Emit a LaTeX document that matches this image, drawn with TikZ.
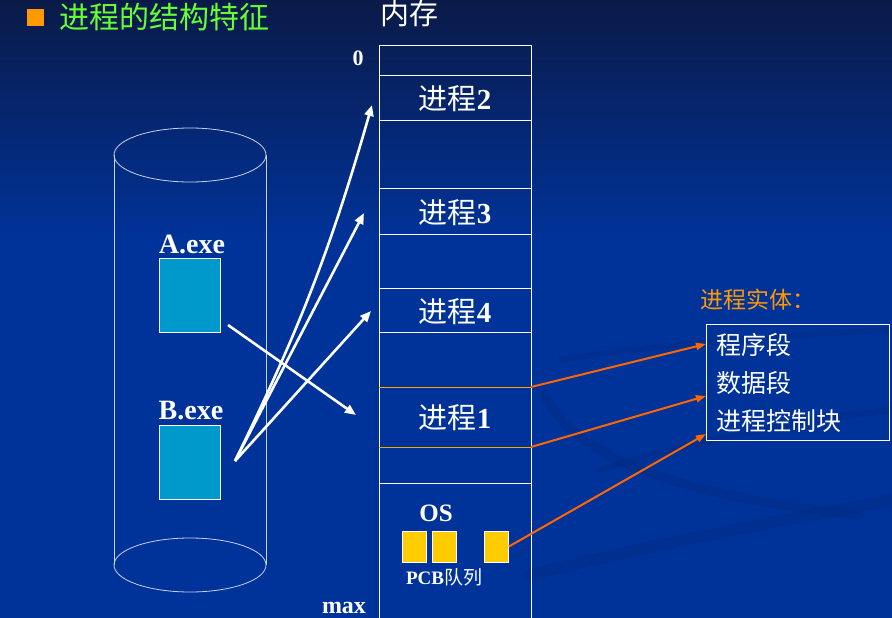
\documentclass[tikz,border=0pt]{standalone}
\usepackage{fontspec}
\setmainfont{Liberation Serif}
\newfontfamily\cjk{Noto Sans CJK SC}
\usetikzlibrary{arrows.meta}
\definecolor{bgtop}{RGB}{10,26,72}
\definecolor{bgblue}{RGB}{0,51,153}
\definecolor{swirl}{RGB}{0,38,125}
\definecolor{titlegreen}{RGB}{102,255,51}
\definecolor{bullet}{RGB}{255,153,0}
\definecolor{entorange}{RGB}{255,153,0}
\definecolor{arrorange}{RGB}{255,102,0}
\definecolor{sepline}{RGB}{240,170,0}
\definecolor{exeblue}{RGB}{0,153,204}
\definecolor{pcbyellow}{RGB}{255,204,0}
\definecolor{cylline}{RGB}{200,210,235}
\newcommand\fs[1]{\fontsize{#1}{#1}\selectfont}
\newcommand\jc[1]{{\cjk 进程}\textbf{#1}}
\begin{document}
\begin{tikzpicture}[x=1pt,y=-1pt,
  txt/.style={inner sep=0pt,text=white},
  memline/.style={draw=white,line width=0.9pt},
  exebox/.style={draw=white,line width=0.8pt,fill=exeblue,minimum width=61pt,minimum height=74pt,inner sep=0pt},
  pcbbox/.style={draw=white,line width=0.8pt,fill=pcbyellow,minimum width=24pt,minimum height=31pt,inner sep=0pt},
  warrow/.style={draw=white,line width=2.6pt,-{Triangle[length=11pt,width=9pt]}},
  oarrow/.style={draw=arrorange,line width=2pt,-{Triangle[length=10pt,width=7pt]}}]
\useasboundingbox (0,0) rectangle (892,618);
% background
\fill[bgblue] (0,0) rectangle (892,618);
\shade[top color=bgtop,bottom color=bgblue] (0,0) rectangle (892,240);
% swirls
\begin{scope}[swirl,opacity=0.3,line cap=round]
\draw[line width=10pt] (545,395) .. controls (580,470) and (720,500) .. (860,515);
\draw[line width=7pt] (600,470) .. controls (700,440) and (800,420) .. (892,410);
\draw[line width=12pt] (530,575) .. controls (650,545) and (780,520) .. (892,500);
\draw[line width=6pt] (560,360) .. controls (650,345) and (780,335) .. (892,330);
\end{scope}
% title
\node[fill=bullet,minimum size=17pt,inner sep=0pt] (bul) at (35.5,17.5) {};
\node[txt,anchor=west,text=titlegreen] (title) at (59,17) {\fs{30}\cjk 进程的结构特征};
\node[txt] (nc) at (409,14) {\fs{29}\cjk 内存};
% memory column
\draw[memline] (379,45) rectangle (531,660);
\foreach \yy in {75,120,188,234,288,332,483} \draw[memline] (379,\yy) -- (531,\yy);
\draw[sepline,line width=0.9pt] (379,387) -- (531,387);
\draw[sepline,line width=0.9pt] (379,447) -- (531,447);
\node[txt] (zero) at (358,58) {\fs{22}\textbf{0}};
\node[txt] (max) at (344,608) {\fs{24}\textbf{max}};
\node[txt] (p2) at (455,99) {\fs{29}\jc{2}};
\node[txt] (p3) at (455,213) {\fs{29}\jc{3}};
\node[txt] (p4) at (455,312) {\fs{29}\jc{4}};
\node[txt] (p1) at (455,418) {\fs{29}\jc{1}};
\node[txt] (os) at (436,513) {\fs{25}\textbf{OS}};
\node[pcbbox] (q1) at (414,546.5) {};
\node[pcbbox] (q2) at (444,546.5) {};
\node[pcbbox] (q3) at (496.5,546.5) {};
\node[txt] (pcbq) at (444,577) {\fs{19}\textbf{PCB}{\cjk 队列}};
% cylinder
\draw[cylline,line width=0.8pt] (190,155) ellipse [x radius=76,y radius=27];
\draw[cylline,line width=0.8pt] (190,565) ellipse [x radius=76,y radius=27];
\draw[cylline,line width=0.8pt] (114,155) -- (114,565);
\draw[cylline,line width=0.8pt] (266,155) -- (266,565);
\node[txt] (alab) at (192,244) {\fs{28}\textbf{A.exe}};
\node[exebox] (abox) at (189.5,295) {};
\node[txt] (blab) at (191,411) {\fs{28}\textbf{B.exe}};
\node[exebox] (bbox) at (189.5,462) {};
% entity box
\node[txt,anchor=west,text=entorange] (entl) at (700,300) {\fs{23}\cjk 进程实体：};
\draw[white,line width=0.9pt] (706,324) rectangle (889,440);
\node[txt,anchor=west] (e1t) at (716,345) {\fs{25}\cjk 程序段};
\node[txt,anchor=west] (e2t) at (716,383) {\fs{25}\cjk 数据段};
\node[txt,anchor=west] (e3t) at (716,421) {\fs{25}\cjk 进程控制块};
% connector coordinates
\coordinate (as) at (228,325);
\coordinate (bs) at (235,461);
\coordinate (t2) at (372,105);
\coordinate (t3) at (364,213);
\coordinate (t4) at (371,311);
\coordinate (t1) at (356,415);
\coordinate (m1) at (531,387);
\coordinate (m2) at (531,447);
\coordinate (e1) at (706,344);
\coordinate (e2) at (706,396);
\coordinate (e3) at (706,434);
% white arrows
\draw[warrow] (bs) to[bend right=5] (t2);
\draw[warrow] (bs) -- (t3);
\draw[warrow] (bs) -- (t4);
\draw[warrow] (as) -- (t1);
% orange arrows
\draw[oarrow] (m1) -- (e1);
\draw[oarrow] (m2) -- (e2);
\draw[oarrow] (q3.east) -- (e3);
\end{tikzpicture}
\end{document}
